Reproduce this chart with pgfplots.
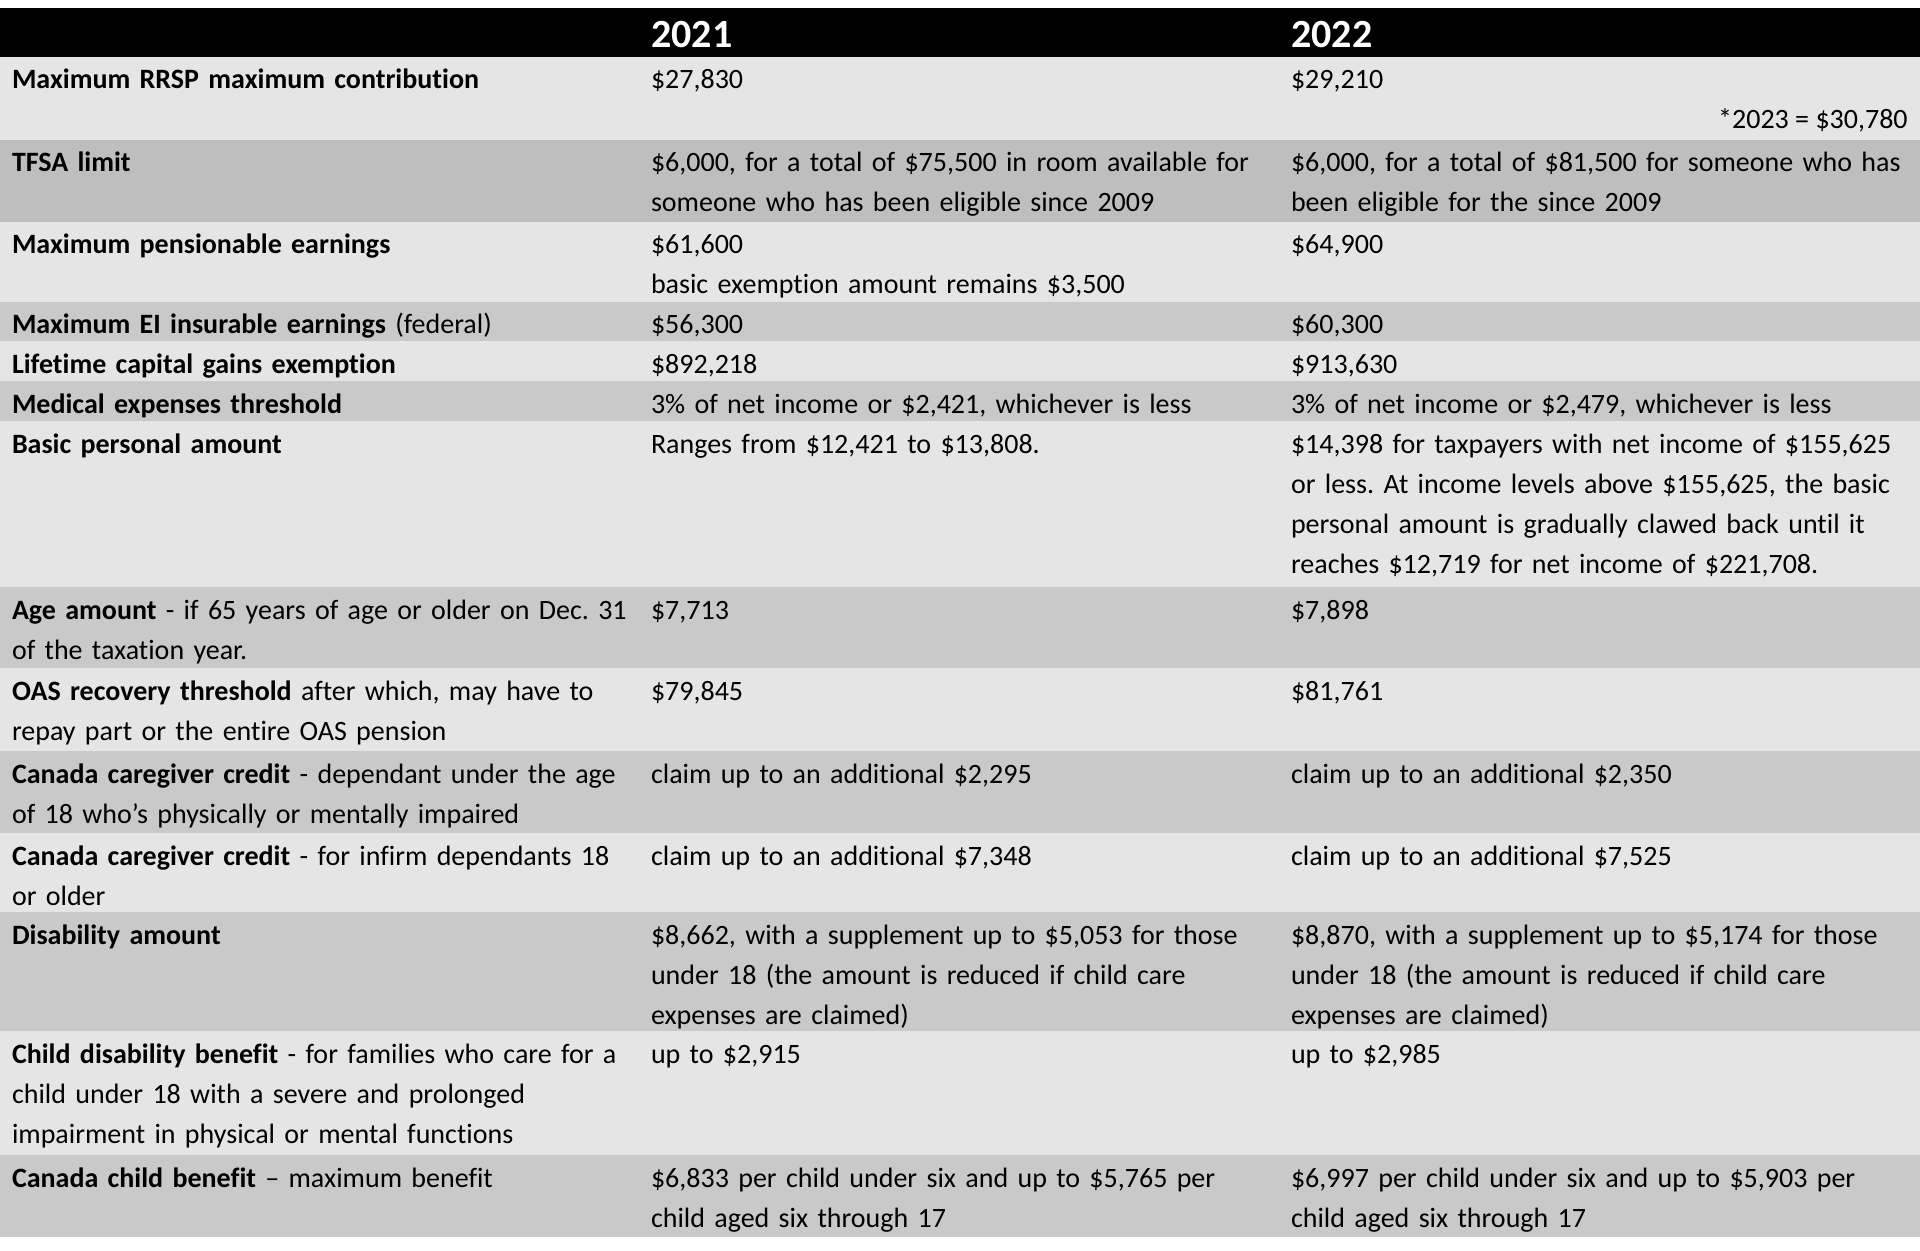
\documentclass[border=0pt]{standalone}
\usepackage{fontspec}
\setmainfont{Carlito}[Ligatures=NoCommon]
\usepackage{pgfplots}
\pgfplotsset{compat=1.18}
\frenchspacing

\definecolor{rowlight}{RGB}{230,229,229}
\definecolor{rowdark}{RGB}{201,201,201}
\definecolor{rowdarker}{RGB}{190,190,190}

\tikzset{cell/.style={anchor=base west, inner sep=0pt, outer sep=0pt,
    text width=312pt, align=left, font=\fontsize{14}{20}\selectfont}}

% row bands in pixel units, y measured from the top
\newcommand{\band}[3]{\addplot[fill=#3,draw=none] coordinates {(0,#1)(1920,#1)(1920,#2)(0,#2)} -- cycle;}

\begin{document}
\begin{tikzpicture}
\begin{axis}[
  scale only axis, width=960pt, height=625.5pt,
  xmin=0, xmax=1920, ymin=0, ymax=1251, y dir=reverse,
  hide axis, clip=false,
]
% keeps the white margin above and below the table in the picture
\addplot[draw=none] coordinates {(0,0)(1920,1251)};
\band{8}{57}{black}
\band{57}{140}{rowlight}
\band{140}{222}{rowdarker}
\band{222}{302}{rowlight}
\band{302}{341}{rowdark}
\band{341}{381}{rowlight}
\band{381}{421}{rowdark}
\band{421}{587}{rowlight}
\band{587}{668}{rowdark}
\band{668}{751}{rowlight}
\band{751}{833}{rowdark}
\band{833}{912}{rowlight}
\band{912}{1031}{rowdark}
\band{1031}{1155}{rowlight}
\band{1155}{1237}{rowdark}

% header
\node[anchor=base west, inner sep=0pt, text=white, font=\fontsize{20}{24}\selectfont\bfseries] at (axis cs:651,48) {2021};
\node[anchor=base west, inner sep=0pt, text=white, font=\fontsize{20}{24}\selectfont\bfseries] at (axis cs:1291,48) {2022};

% row 1
\node[cell] at (axis cs:12,89) {\textbf{Maximum RRSP maximum contribution}};
\node[cell] at (axis cs:651,89) {\$27,830};
\node[cell] at (axis cs:1291,89) {\$29,210};
\node[anchor=base east, inner sep=0pt, font=\fontsize{14}{20}\selectfont] at (axis cs:1908,129) {*2023 = \$30,780};
% row 2
\node[cell] at (axis cs:12,172) {\textbf{TFSA limit}};
\node[cell] at (axis cs:651,172) {\$6,000, for a total of \$75,500 in room available for\\someone who has been eligible since 2009};
\node[cell] at (axis cs:1291,172) {\$6,000, for a total of \$81,500 for someone who has\\been eligible for the since 2009};
% row 3
\node[cell] at (axis cs:12,254) {\textbf{Maximum pensionable earnings}};
\node[cell] at (axis cs:651,254) {\$61,600\\basic exemption amount remains \$3,500};
\node[cell] at (axis cs:1291,254) {\$64,900};
% row 4
\node[cell] at (axis cs:12,334) {\textbf{Maximum EI insurable earnings} (federal)};
\node[cell] at (axis cs:651,334) {\$56,300};
\node[cell] at (axis cs:1291,334) {\$60,300};
% row 5
\node[cell] at (axis cs:12,373) {\textbf{Lifetime capital gains exemption}};
\node[cell] at (axis cs:651,373) {\$892,218};
\node[cell] at (axis cs:1291,373) {\$913,630};
% row 6
\node[cell] at (axis cs:12,413) {\textbf{Medical expenses threshold}};
\node[cell] at (axis cs:651,413) {3\% of net income or \$2,421, whichever is less};
\node[cell] at (axis cs:1291,413) {3\% of net income or \$2,479, whichever is less};
% row 7
\node[cell] at (axis cs:12,453) {\textbf{Basic personal amount}};
\node[cell] at (axis cs:651,453) {Ranges from \$12,421 to \$13,808.};
\node[cell] at (axis cs:1291,453) {\$14,398 for taxpayers with net income of \$155,625\\or less. At income levels above \$155,625, the basic\\personal amount is gradually clawed back until it\\reaches \$12,719 for net income of \$221,708.};
% row 8
\node[cell] at (axis cs:12,619) {\textbf{Age amount} - if 65 years of age or older on Dec. 31\\of the taxation year.};
\node[cell] at (axis cs:651,619) {\$7,713};
\node[cell] at (axis cs:1291,619) {\$7,898};
% row 9
\node[cell] at (axis cs:12,700) {\textbf{OAS recovery threshold} after which, may have to\\repay part or the entire OAS pension};
\node[cell] at (axis cs:651,700) {\$79,845};
\node[cell] at (axis cs:1291,700) {\$81,761};
% row 10
\node[cell] at (axis cs:12,783) {\textbf{Canada caregiver credit} - dependant under the age\\of 18 who’s physically or mentally impaired};
\node[cell] at (axis cs:651,783) {claim up to an additional \$2,295};
\node[cell] at (axis cs:1291,783) {claim up to an additional \$2,350};
% row 11
\node[cell] at (axis cs:12,865) {\textbf{Canada caregiver credit} - for infirm dependants 18\\or older};
\node[cell] at (axis cs:651,865) {claim up to an additional \$7,348};
\node[cell] at (axis cs:1291,865) {claim up to an additional \$7,525};
% row 12
\node[cell] at (axis cs:12,944) {\textbf{Disability amount}};
\node[cell] at (axis cs:651,944) {\$8,662, with a supplement up to \$5,053 for those\\under 18 (the amount is reduced if child care\\expenses are claimed)};
\node[cell] at (axis cs:1291,944) {\$8,870, with a supplement up to \$5,174 for those\\under 18 (the amount is reduced if child care\\expenses are claimed)};
% row 13
\node[cell] at (axis cs:12,1063) {\textbf{Child disability benefit} - for families who care for a\\child under 18 with a severe and prolonged\\impairment in physical or mental functions};
\node[cell] at (axis cs:651,1063) {up to \$2,915};
\node[cell] at (axis cs:1291,1063) {up to \$2,985};
% row 14
\node[cell] at (axis cs:12,1187) {\textbf{Canada child benefit} – maximum benefit};
\node[cell] at (axis cs:651,1187) {\$6,833 per child under six and up to \$5,765 per\\child aged six through 17};
\node[cell] at (axis cs:1291,1187) {\$6,997 per child under six and up to \$5,903 per\\child aged six through 17};
\end{axis}
\end{tikzpicture}
\end{document}
